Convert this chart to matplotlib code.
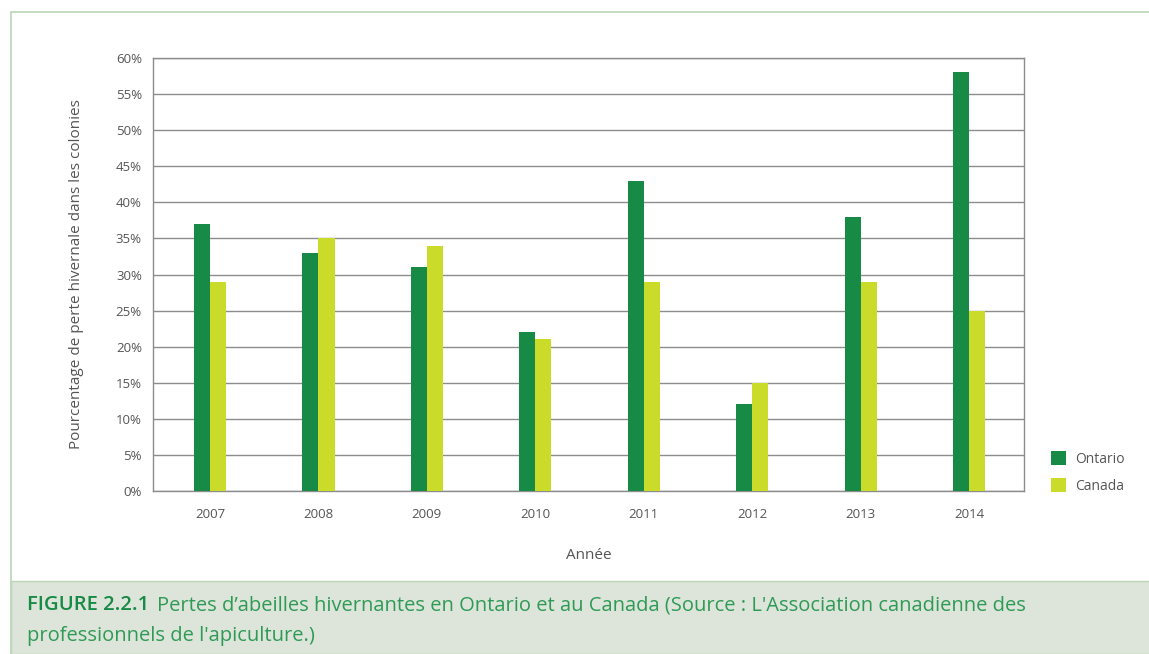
import numpy as np
import matplotlib.pyplot as plt
from matplotlib.patches import Rectangle

# data
years = ['2007', '2008', '2009', '2010', '2011', '2012', '2013', '2014']
ontario = [37, 33, 31, 22, 43, 12, 38, 58]
canada = [29, 35, 34, 21, 29, 15, 29, 25]
yticks = [0, 5, 10, 15, 20, 25, 30, 35, 40, 45, 50, 55, 60]

W, H = 1149, 654
plt.rcParams['font.family'] = ['Open Sans', 'DejaVu Sans']

fig = plt.figure(figsize=(W / 100, H / 100), dpi=100)

# outer frame and caption band
fig.patches.append(Rectangle((11 / W, 0), 1.2, (H - 12) / H, transform=fig.transFigure,
                             facecolor='white', edgecolor='#b9d7b4', lw=1.2, zorder=-2))
fig.patches.append(Rectangle((11 / W, 0), 1.2, (H - 581) / H, transform=fig.transFigure,
                             facecolor='#dde5da', edgecolor='#b9d7b4', lw=1.0, zorder=-1))

# plot area in pixels: left 153, right 1024, top 58, bottom 491
ax = fig.add_axes([153 / W, (H - 491) / H, (1024 - 153) / W, (491 - 58) / H])
ax.set_zorder(1)
x = np.arange(len(years))
w = 0.148
ax.bar(x - w / 2, ontario, w, color='#178a45', label='Ontario', zorder=3)
ax.bar(x + w / 2, canada, w, color='#cbdb2a', label='Canada', zorder=3)

ax.set_xlim(-0.526, len(years) - 1 + 0.507)
ax.set_ylim(0, 60)
ax.set_yticks(yticks)
ax.set_yticklabels([f'{v}%' for v in yticks])
ax.set_xticks(x)
ax.set_xticklabels(years)
ax.yaxis.grid(True, color='#8c8c8c', lw=1.0, zorder=0)
ax.set_axisbelow(True)
for s in ax.spines.values():
    s.set_color('#8c8c8c')
    s.set_linewidth(1.0)
ax.tick_params(length=0, labelsize=9.5, colors='#555555', pad=8)
ax.tick_params(axis='x', pad=12)

ax.set_xlabel('Année', fontsize=11, color='#555555', labelpad=20)
ax.set_ylabel('Pourcentage de perte hivernale dans les colonies', fontsize=11,
              color='#555555', labelpad=23)

ax.legend(loc='lower left', bbox_to_anchor=(1038 / W, (H - 506) / H),
          bbox_transform=fig.transFigure, frameon=False, fontsize=10,
          handlelength=1.15, handleheight=1.15, handletextpad=0.6,
          labelspacing=0.8, labelcolor='#555555')

# caption
fig.text(27 / W, 1 - 605 / H, 'FIGURE 2.2.1', fontsize=14.6, fontweight='semibold',
         color='#178a45', va='center', ha='left')
fig.text(157 / W, 1 - 605 / H,
         "Pertes d\u2019abeilles hivernantes en Ontario et au Canada (Source : "
         "L'Association canadienne des", fontsize=14.5, color='#2e9a55',
         va='center', ha='left')
fig.text(27 / W, 1 - 636 / H, "professionnels de l'apiculture.)", fontsize=14.5,
         color='#2e9a55', va='center', ha='left')

fig.savefig('out.png', dpi=100)
